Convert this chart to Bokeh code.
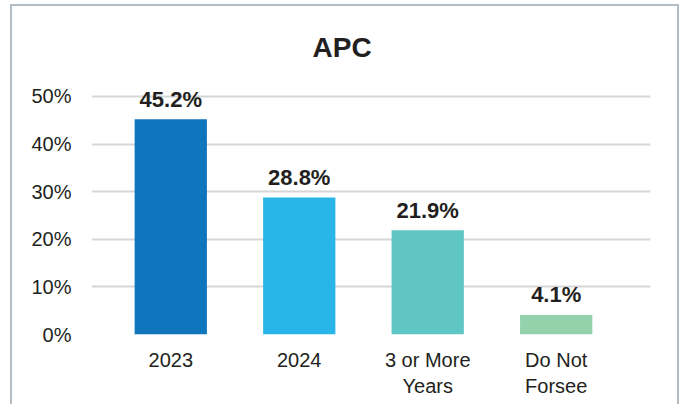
from bokeh.plotting import figure
from bokeh.models import ColumnDataSource, Range1d, FixedTicker
from bokeh.core.properties import value
from bokeh.embed import file_html
from bokeh.resources import INLINE

categories = ["2023", "2024", "3 or More\nYears", "Do Not\nForsee"]
values = [45.2, 28.8, 21.9, 4.1]
colors = ["#0f75bc", "#29b5e8", "#5fc6c3", "#93d2ab"]
y_ticks = [0, 10, 20, 30, 40, 50]
title_text = "APC"

positions = list(range(len(categories)))
labels = [f"{v:.1f}%" for v in values]

source = ColumnDataSource(dict(x=positions, top=values, color=colors, label=labels))

p = figure(width=669, height=400, output_backend="svg", toolbar_location=None,
           x_range=Range1d(-0.617, 3.734), y_range=Range1d(0, 53.36),
           min_border_left=79, min_border_right=31, min_border_top=74, min_border_bottom=72)

p.title.text = title_text
p.title.align = "left"
p.title.text_font = "Liberation Sans"
p.title.text_font_size = "28px"
p.title.text_font_style = "bold"
p.title.text_color = "#231f20"
p.title.offset = 221
p.title.standoff = 36

p.styles = {"border-top": "2px solid #b5bdc4", "border-left": "2px solid #b5bdc4",
            "border-right": "2px solid #b5bdc4", "margin-left": "10px", "margin-top": "4px"}

p.vbar(x="x", top="top", bottom=0, width=0.5625, color="color", source=source, line_color=None)
p.text(x="x", y="top", text="label", source=source, text_align="center",
       text_baseline="alphabetic", y_offset=-20, text_font=value("Liberation Sans"),
       text_font_size="22px", text_font_style="bold", text_color="#231f20")

p.outline_line_color = None
p.xgrid.grid_line_color = None
p.ygrid.grid_line_color = "#d6d6d6"
p.ygrid.grid_line_width = 2
p.ygrid.ticker = FixedTicker(ticks=y_ticks)

p.yaxis.ticker = FixedTicker(ticks=y_ticks)
p.yaxis.major_label_overrides = {t: f"{t}%" for t in y_ticks}
p.xaxis.ticker = FixedTicker(ticks=positions)
p.xaxis.major_label_overrides = {i: c for i, c in zip(positions, categories)}

for ax in (p.xaxis, p.yaxis):
    ax.axis_line_color = None
    ax.major_tick_line_color = None
    ax.minor_tick_line_color = None
    ax.major_label_text_font = "Liberation Sans"
    ax.major_label_text_font_size = "20px"
    ax.major_label_text_color = "#231f20"
p.yaxis.major_label_standoff = 14
p.xaxis.major_label_standoff = 8

open("out.html", "w").write(file_html(p, INLINE))
